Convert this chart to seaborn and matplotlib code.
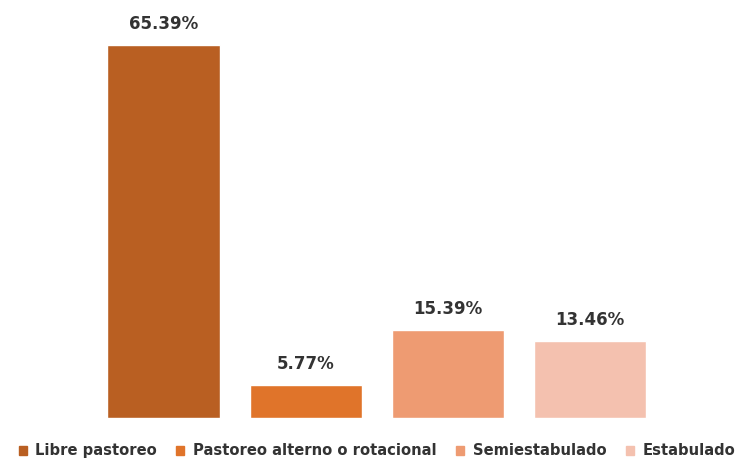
import matplotlib
matplotlib.use('Agg')
import matplotlib.pyplot as plt
import seaborn as sns
import pandas as pd

# ── Data ─────────────────────────────────────────────────────────────────────
categories = ['Libre pastoreo', 'Pastoreo alterno o rotacional',
              'Semiestabulado', 'Estabulado']
values = [65.39, 5.77, 15.39, 13.46]
colors = ['#B95F22', '#E0742A', '#EE9B72', '#F4C1AF']

df = pd.DataFrame({'sistema': categories, 'pct': values})

sns.set_style('white')
plt.rcParams['font.family'] = ['DejaVu Sans']

fig = plt.figure(figsize=(7.45, 4.62), dpi=100)
ax = fig.add_axes([92.5 / 745, 44 / 462, (661 - 92.5) / 745, 399 / 462])

sns.barplot(data=df, x='sistema', y='pct', hue='sistema', order=categories,
            hue_order=categories, palette=colors, dodge=False, width=0.79,
            saturation=1, legend=False, ax=ax)

for i, v in enumerate(values):
    ax.text(i, v + 2.2, f'{v:.2f}%', ha='center', va='bottom',
            fontsize=12, fontweight='bold', color='#333333')

ax.set_ylim(0, 70)
ax.set_xlim(-0.5, 3.5)
ax.set_xlabel(''); ax.set_ylabel('')
ax.set_xticks([]); ax.set_yticks([])
sns.despine(ax=ax, left=True, bottom=True)

handles = [plt.Rectangle((0, 0), 1, 1, color=c) for c in colors]
fig.legend(handles, categories, loc='center', bbox_to_anchor=(0.506, 0.024),
           ncol=4, frameon=False, handlelength=0.55, handleheight=0.55,
           handletextpad=0.6, columnspacing=1.3, borderaxespad=0,
           borderpad=0, prop={'weight': 'bold', 'size': 10.6},
           labelcolor='#333333')

fig.savefig('out.png', dpi=100)
